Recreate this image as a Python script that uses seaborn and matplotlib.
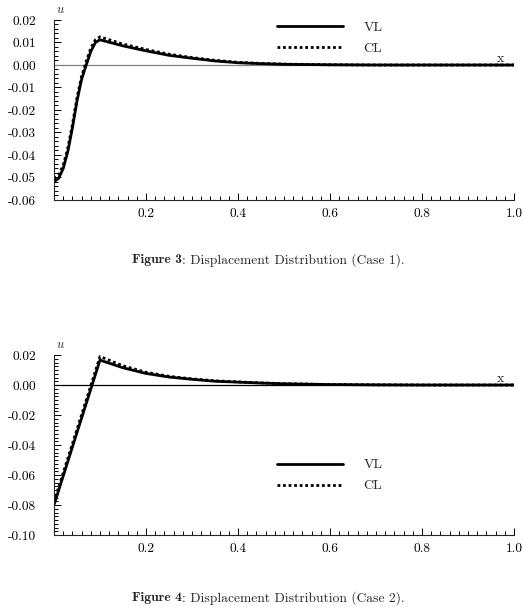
import numpy as np
import pandas as pd
import matplotlib
matplotlib.use("Agg")
import matplotlib.pyplot as plt
from matplotlib.ticker import MultipleLocator, FuncFormatter, FormatStrFormatter
import seaborn as sns

# values
x1 = [0.0, 0.01, 0.02, 0.03, 0.04, 0.05, 0.06, 0.07, 0.08, 0.09, 0.10,
      0.15, 0.20, 0.25, 0.30, 0.35, 0.40, 0.45, 0.50, 0.60, 0.70, 0.80, 0.90, 1.0]
vl1 = [-0.0519, -0.0504, -0.046, -0.0385, -0.028, -0.016, -0.0064, 0.0, 0.006, 0.010, 0.0112,
       0.0085, 0.0063, 0.0043, 0.003, 0.0018, 0.001, 0.0006, 0.0003, 0.0001, 0.0, 0.0, 0.0, 0.0]
cl1 = [-0.0505, -0.049, -0.0445, -0.037, -0.0265, -0.0145, -0.005, 0.0015, 0.0075, 0.0112, 0.0125,
       0.0093, 0.0069, 0.0048, 0.0033, 0.0021, 0.0012, 0.0007, 0.0004, 0.0001, 0.0, 0.0, 0.0, 0.0]

x2 = [0.0, 0.10, 0.15, 0.20, 0.25, 0.30, 0.35, 0.40, 0.45, 0.50, 0.60, 0.70, 0.80, 0.90, 1.0]
vl2 = [-0.080, 0.0166, 0.0115, 0.0077, 0.0053, 0.0038, 0.0025, 0.0019, 0.0013, 0.0008, 0.0003, 0.0001, 0.0, 0.0, 0.0]
cl2 = [-0.078, 0.0190, 0.0128, 0.0085, 0.0058, 0.0041, 0.0028, 0.0021, 0.0014, 0.0009, 0.0003, 0.0001, 0.0, 0.0, 0.0]

xticks = [0.2, 0.4, 0.6, 0.8, 1.0]
captions = ["Figure 3", "Figure 4"]
subcaps = [": Displacement Distribution (Case 1).", ": Displacement Distribution (Case 2)."]

sns.set_style("ticks")
plt.rcParams['font.family'] = ['cmr10', 'DejaVu Serif']
plt.rcParams['mathtext.fontset'] = 'cm'
plt.rcParams['axes.unicode_minus'] = False
plt.rcParams['axes.formatter.use_mathtext'] = True

fig = plt.figure(figsize=(5.24, 6.07), dpi=100)
ax1 = fig.add_axes([54/524, 1-200/607, 460/524, 180/607])
ax2 = fig.add_axes([54/524, 1-535/607, 460/524, 180/607])

cases = [
    (ax1, x1, vl1, cl1, (-0.06, 0.02), 0.01, 0.002, 'gray', 0.90),
    (ax2, x2, vl2, cl2, (-0.10, 0.02), 0.02, 0.0025, 'black', 0.33),
]


def yfmt(v, pos):
    s = '%.2f' % v
    return '0.00' if s == '-0.00' else s


for ax, xs, vl, cl, ylim, ymaj, ymin, zc, legy in cases:
    df = pd.DataFrame({'x': xs * 2, 'u': vl + cl, 'kind': ['VL'] * len(xs) + ['CL'] * len(xs)})
    ax.axhline(0, color=zc, lw=0.9, zorder=1)
    sns.lineplot(data=df[df.kind == 'VL'], x='x', y='u', ax=ax, color='black', lw=2.0, label='VL')
    sns.lineplot(data=df[df.kind == 'CL'], x='x', y='u', ax=ax, color='black', lw=2.0,
                 linestyle=(0, (1, 1)), label='CL')
    ax.set_xlim(0, 1.0)
    ax.set_ylim(*ylim)
    ax.set_xlabel('')
    ax.set_ylabel('')
    ax.spines['top'].set_visible(False)
    ax.spines['right'].set_visible(False)
    ax.spines['left'].set_linewidth(0.8)
    ax.spines['bottom'].set_linewidth(0.8)
    ax.set_xticks(xticks)
    ax.xaxis.set_minor_locator(MultipleLocator(0.02))
    ax.yaxis.set_major_locator(MultipleLocator(ymaj))
    ax.yaxis.set_minor_locator(MultipleLocator(ymin))
    ax.yaxis.set_major_formatter(FuncFormatter(yfmt))
    ax.xaxis.set_major_formatter(FormatStrFormatter('%.1f'))
    ax.tick_params(which='both', direction='in', width=0.7, labelsize=9.6, colors='black')
    ax.tick_params(which='major', length=5)
    ax.tick_params(which='minor', length=3)
    ax.tick_params(axis='y', pad=13)
    ax.tick_params(axis='x', pad=6)
    ax.text(0.005, 1.02, '$u$', transform=ax.transAxes, fontsize=9, ha='left', va='bottom')
    ax.text(0.97, 0.0, 'x', transform=ax.get_yaxis_transform(), fontsize=10, ha='center', va='bottom')
    ax.legend(loc='center left', bbox_to_anchor=(0.457, legy), frameon=False, fontsize=10,
              handlelength=4.8, handletextpad=1.45, labelspacing=0.6)

# captions: bold "Figure n" followed by regular text, centred as one line
fig.canvas.draw()
renderer = fig.canvas.get_renderer()
for cap, sub, yc in zip(captions, subcaps, [1-260/607, 1-598/607]):
    tb = fig.text(0, yc, cap, family='cmb10', fontsize=9.7, ha='left', va='center')
    tr = fig.text(0, yc, sub, fontsize=9.7, ha='left', va='center')
    wb = tb.get_window_extent(renderer).width / fig.bbox.width
    wr = tr.get_window_extent(renderer).width / fig.bbox.width
    x0 = 268/524 - (wb + wr) / 2
    tb.set_x(x0)
    tr.set_x(x0 + wb)

fig.savefig('out.png', dpi=100)
